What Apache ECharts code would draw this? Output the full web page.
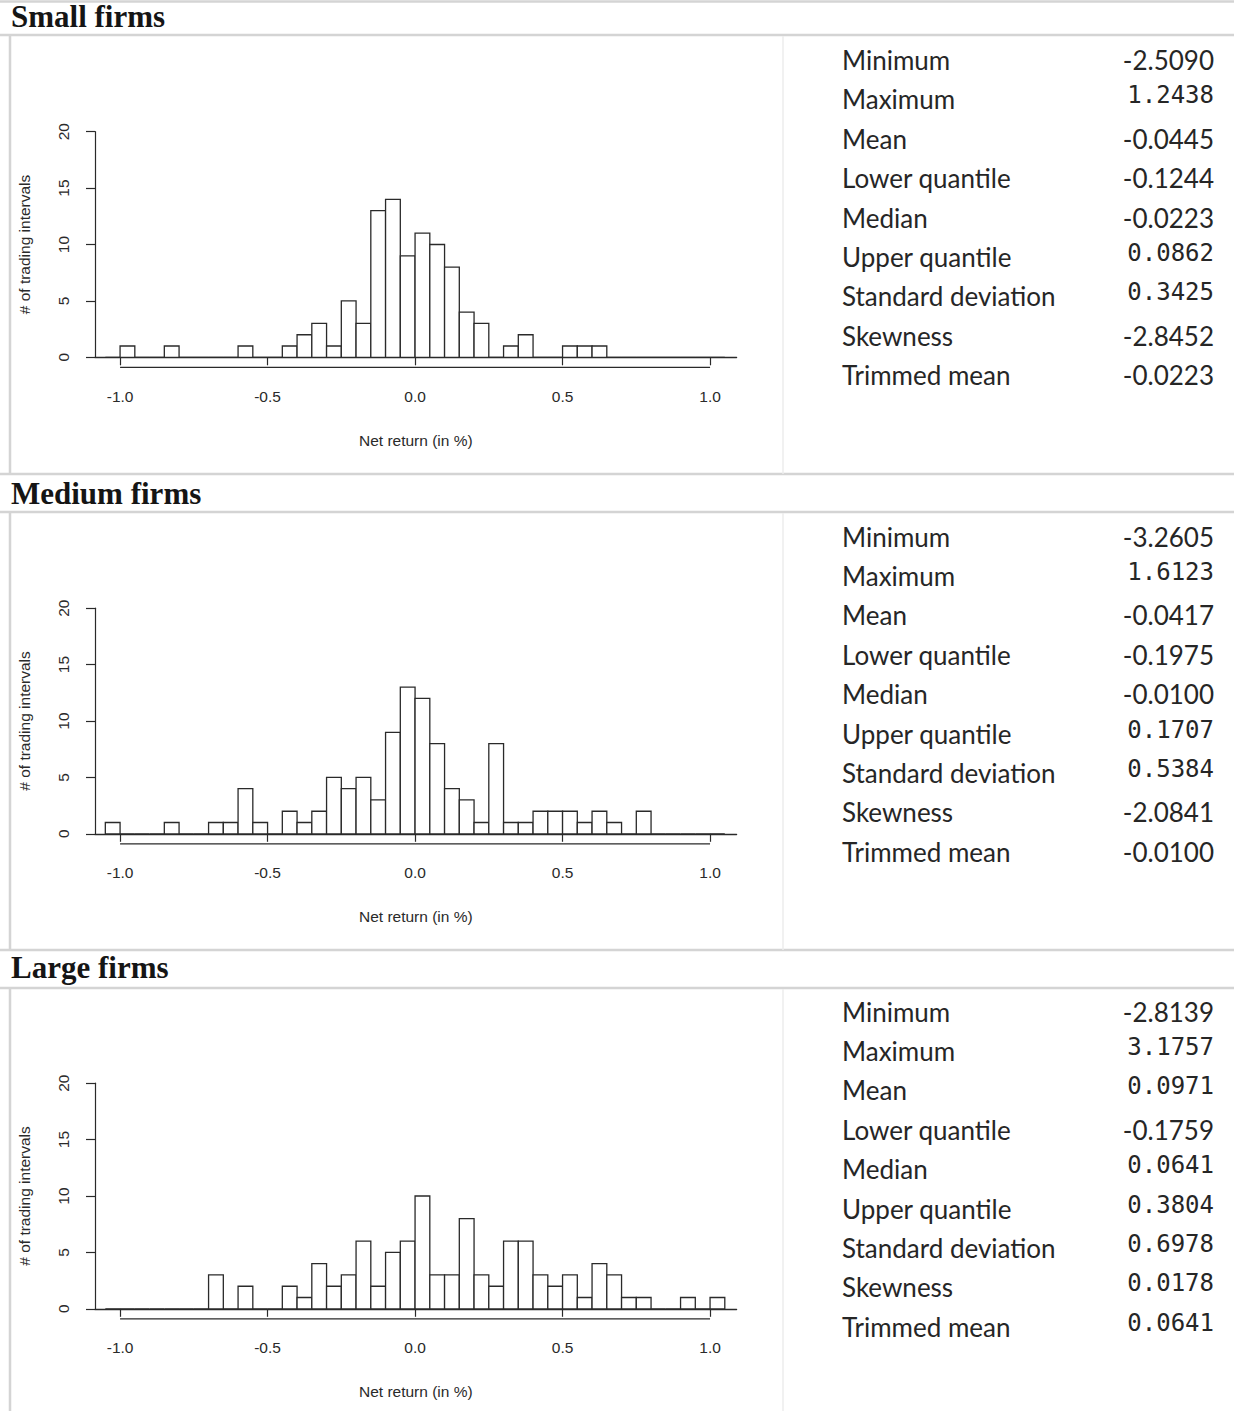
<!DOCTYPE html>
<html><head><meta charset="utf-8">
<script src="https://cdn.jsdelivr.net/npm/echarts@6/dist/echarts.min.js"></script>
<style>html,body{margin:0;padding:0;background:#fff}#c{width:1234px;height:1411px}</style>
</head><body><div id="c"></div>
<script>
// ---------- DATA ----------
const panelTitles = ['Small firms', 'Medium firms', 'Large firms'];
const binWidth = 0.05;
const binStarts = [-1.05,-1.00,-0.95,-0.90,-0.85,-0.80,-0.75,-0.70,-0.65,-0.60,-0.55,-0.50,-0.45,-0.40,-0.35,-0.30,-0.25,-0.20,-0.15,-0.10,-0.05,
  0.00,0.05,0.10,0.15,0.20,0.25,0.30,0.35,0.40,0.45,0.50,0.55,0.60,0.65,0.70,0.75,0.80,0.85,0.90,0.95,1.00];
const smallCounts  = [0,1,0,0,1,0,0,0,0,1, 0,0,1,2,3,1,5,3,13,14, 9,11,10,8,4,3,0,1,2,0, 0,1,1,1,0,0,0,0,0,0, 0,0];
const mediumCounts = [1,0,0,0,1,0,0,1,1,4, 1,0,2,1,2,5,4,5,3,9, 13,12,8,4,3,1,8,1,1,2, 2,2,1,2,1,0,2,0,0,0, 0,0];
const largeCounts  = [0,0,0,0,0,0,0,3,0,2, 0,0,2,1,4,2,3,6,2,5, 6,10,3,3,8,3,2,6,6,3, 2,3,1,4,3,1,1,0,0,1, 0,1];
const xTickValues = [-1.0, -0.5, 0.0, 0.5, 1.0];
const yTickValues = [0, 5, 10, 15, 20];
const xAxisTitle = 'Net return (in %)';
const yAxisTitle = '# of trading intervals';
const statLabels = ['Minimum','Maximum','Mean','Lower quantile','Median','Upper quantile','Standard deviation','Skewness','Trimmed mean'];
const smallStats  = ['-2.5090','1.2438','-0.0445','-0.1244','-0.0223','0.0862','0.3425','-2.8452','-0.0223'];
const mediumStats = ['-3.2605','1.6123','-0.0417','-0.1975','-0.0100','0.1707','0.5384','-2.0841','-0.0100'];
const largeStats  = ['-2.8139','3.1757','0.0971','-0.1759','0.0641','0.3804','0.6978','0.0178','0.0641'];

// ---------- LAYOUT ----------
const countsList = [smallCounts, mediumCounts, largeCounts];
const statsList = [smallStats, mediumStats, largeStats];
const offsets = [0, 476.5, 951.5];
const ink = '#2a2a2a';
const rFont = 'Liberation Sans, Arial, sans-serif';
const sepColor = '#d4d4d4';

const chart = echarts.init(document.getElementById('c'), null, {renderer: 'svg'});

const grids = [], xAxes = [], yAxes = [], series = [], graphics = [];

offsets.forEach((off, i) => {
  grids.push({left: 95, top: 131.7 + off, width: 641.6, height: 225.6});
  // baseline axis (at y = 0)
  xAxes.push({
    gridIndex: i, type: 'value', min: -1.085, max: 1.09, position: 'bottom',
    axisLine: {show: true, onZero: false, lineStyle: {color: ink, width: 1.3}},
    axisTick: {show: false}, axisLabel: {show: false}, splitLine: {show: false},
    name: xAxisTitle, nameLocation: 'middle', nameGap: 75,
    nameTextStyle: {fontFamily: rFont, fontSize: 15.5, color: ink}
  });
  // R style tick axis
  xAxes.push({
    gridIndex: i, type: 'value', min: -1.085, max: 1.09, position: 'bottom', offset: 10,
    axisLine: {show: false},
    axisTick: {show: true, customValues: xTickValues, length: 8, lineStyle: {color: ink, width: 1.2}},
    axisLabel: {show: true, customValues: xTickValues, margin: 21, fontFamily: rFont, fontSize: 15.5, color: ink,
      formatter: v => v.toFixed(1)},
    splitLine: {show: false}
  });
  yAxes.push({
    gridIndex: i, type: 'value', min: yTickValues[0], max: yTickValues[yTickValues.length - 1], interval: 5,
    axisLine: {show: true, onZero: false, lineStyle: {color: ink, width: 1.2}},
    axisTick: {show: true, length: 9, lineStyle: {color: ink, width: 1.2}},
    axisLabel: {rotate: 90, margin: 24, fontFamily: rFont, fontSize: 15.5, color: ink},
    splitLine: {show: false},
    name: yAxisTitle, nameLocation: 'middle', nameGap: 63, nameRotate: 90,
    nameTextStyle: {fontFamily: rFont, fontSize: 15.5, color: ink}
  });
  // histogram bars
  series.push({
    type: 'custom', xAxisIndex: i * 2, yAxisIndex: i, clip: false,
    data: binStarts.map((s, k) => [s, s + binWidth, countsList[i][k]]),
    encode: {x: [0, 1], y: 2},
    renderItem: (params, api) => {
      const p0 = api.coord([api.value(0), api.value(2)]);
      const p1 = api.coord([api.value(1), 0]);
      return {type: 'rect', shape: {x: p0[0], y: p0[1], width: p1[0] - p0[0], height: p1[1] - p0[1]},
        style: {fill: '#fff', stroke: ink, lineWidth: 1.3}};
    }
  });
  // R x-axis line from first to last tick, offset below the plot
  series.push({
    type: 'custom', xAxisIndex: i * 2, yAxisIndex: i, clip: false, silent: true,
    data: [[xTickValues[0], xTickValues[xTickValues.length - 1]]],
    renderItem: (params, api) => {
      const a = api.coord([api.value(0), 0]);
      const b = api.coord([api.value(1), 0]);
      return {type: 'line', shape: {x1: a[0], y1: a[1] + 10, x2: b[0], y2: b[1] + 10},
        style: {stroke: ink, lineWidth: 1.2}};
    }
  });

  // titles
  const titleY = [19, 496, 970][i];
  graphics.push({type: 'text', left: 11, top: titleY - 18,
    style: {text: panelTitles[i], font: 'bold 31px "Liberation Serif", serif', fill: '#151515'}});

  // stats
  statLabels.forEach((lab, r) => {
    const y = 60 + off + r * 39.4;
    graphics.push({type: 'text', x: 842, y: y,
      style: {text: lab, font: '26px Lato, sans-serif', fill: '#262626', textVerticalAlign: 'middle', textAlign: 'left'}});
    const val = statsList[i][r];
    const mono = val.charAt(0) !== '-';
    graphics.push({type: 'text', x: 1214, y: mono ? y - 4 : y,
      style: {text: val, font: mono ? '24px "DejaVu Sans Mono", monospace' : '26px Lato, sans-serif',
        fill: '#262626', textVerticalAlign: 'middle', textAlign: 'right'}});
  });
});

// separator lines
const hLines = [[0, 1234, 1.5], [0, 1234, 35], [0, 1234, 474], [0, 1234, 512], [0, 1234, 950], [0, 1234, 988]];
hLines.forEach(l => graphics.push({type: 'line', shape: {x1: l[0], y1: l[2], x2: l[1], y2: l[2]},
  style: {stroke: sepColor, lineWidth: 2.5}}));
const vLines = [[10, 36, 474], [10, 513, 950], [10, 989, 1411], [783, 36, 474], [783, 513, 950], [783, 989, 1411]];
vLines.forEach(l => graphics.push({type: 'line', shape: {x1: l[0], y1: l[1], x2: l[0], y2: l[2]},
  style: {stroke: l[0] < 100 ? sepColor : '#ececec', lineWidth: l[0] < 100 ? 2.5 : 1.5}}));

chart.setOption({
  animation: false,
  backgroundColor: '#fff',
  grid: grids, xAxis: xAxes, yAxis: yAxes, series: series, graphic: graphics
});
</script></body></html>
